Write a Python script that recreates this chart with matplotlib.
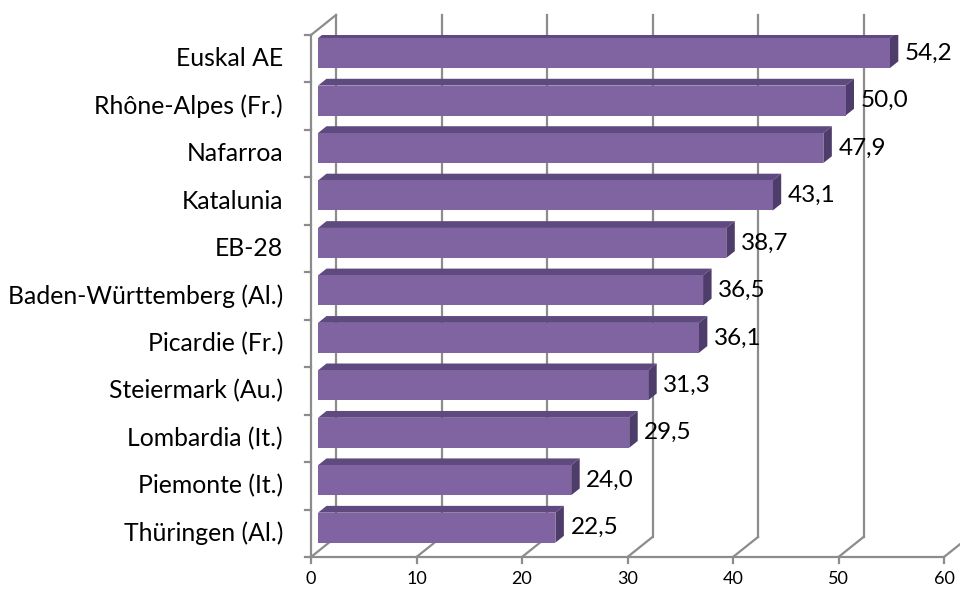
import matplotlib
matplotlib.use("Agg")
import matplotlib.pyplot as plt
from matplotlib.patches import Polygon
from matplotlib.lines import Line2D

categories = ["Thüringen (Al.)", "Piemonte (It.)", "Lombardia (It.)", "Steiermark (Au.)",
              "Picardie (Fr.)", "Baden-Württemberg (Al.)", "EB-28", "Katalunia",
              "Nafarroa", "Rhône-Alpes (Fr.)", "Euskal AE"]
values = [22.5, 24.0, 29.5, 31.3, 36.1, 36.5, 38.7, 43.1, 47.9, 50.0, 54.2]
value_labels = ["22,5", "24,0", "29,5", "31,3", "36,1", "36,5", "38,7", "43,1", "47,9", "50,0", "54,2"]
xticks = [0, 10, 20, 30, 40, 50, 60]

W, H = 960, 589
fig = plt.figure(figsize=(W / 100, H / 100), dpi=100)
x0px, x1px = 311, 944
ybot, ytop = 557, 35
ax = fig.add_axes([x0px / W, (H - ybot) / H, (x1px - x0px) / W, (ybot - ytop) / H])
ax.set_xlim(0, 60)
ax.set_ylim(-0.5, len(categories) - 0.5)
ax.axis("off")

pxu = (x1px - x0px) / 60.0
pyu = (ybot - ytop) / len(categories)
DX = 25 / pxu
DY = 20 / pyu
f0, fd = 0.28, 0.34
h = 30 / pyu

grid_c = "#8c8c8c"
lw = 1.6
n = len(categories)
ymin, ymax = -0.5, n - 0.5
FONT = "Lato"

# back wall gridlines + floor diagonals
for t in xticks:
    ax.add_line(Line2D([t + DX, t + DX], [ymin + DY, ymax + DY], color=grid_c, lw=lw, clip_on=False, zorder=1))
    ax.add_line(Line2D([t, t + DX], [ymin, ymin + DY], color=grid_c, lw=lw, clip_on=False, zorder=1))
# left wall
ax.add_line(Line2D([0, 0], [ymin, ymax], color=grid_c, lw=lw, clip_on=False, zorder=1))
ax.add_line(Line2D([0, DX], [ymax, ymax + DY], color=grid_c, lw=lw, clip_on=False, zorder=1))
for k in range(n + 1):
    yy = ymin + k
    ax.add_line(Line2D([0, -6 / pxu], [yy, yy], color=grid_c, lw=lw, clip_on=False, zorder=1))
# front x axis
ax.add_line(Line2D([0, 60], [ymin, ymin], color=grid_c, lw=lw, clip_on=False, zorder=1))
for t in xticks:
    ax.add_line(Line2D([t, t], [ymin, ymin - 6 / pyu], color=grid_c, lw=lw, clip_on=False, zorder=1))
    ax.text(t, ymin - 22 / pyu, str(t), ha="center", va="center", fontsize=13,
            family=FONT, color="#000000")

front_c = "#8064a2"
top_c = "#5f4a80"
side_c = "#4e3c6b"
for i, (v, lab) in enumerate(zip(values, value_labels)):
    xa = f0 * DX
    xb = v + f0 * DX
    ya = i - h / 2 + f0 * DY
    yb = i + h / 2 + f0 * DY
    ddx, ddy = fd * DX, fd * DY
    ax.add_patch(Polygon([(xa, yb), (xb, yb), (xb + ddx, yb + ddy), (xa + ddx, yb + ddy)],
                         closed=True, facecolor=top_c, edgecolor="none", zorder=3))
    ax.add_patch(Polygon([(xb, ya), (xb, yb), (xb + ddx, yb + ddy), (xb + ddx, ya + ddy)],
                         closed=True, facecolor=side_c, edgecolor="none", zorder=3))
    ax.add_patch(Polygon([(xa, ya), (xb, ya), (xb, yb), (xa, yb)],
                         closed=True, facecolor=front_c, edgecolor="none", zorder=4))
    ax.text(xb + 15 / pxu, i + f0 * DY, lab, ha="left", va="center", fontsize=17.5,
            family=FONT, color="#000000", zorder=5)
    ax.text(-28 / pxu, i, categories[i], ha="right", va="center", fontsize=17.8,
            family=FONT, color="#000000")

fig.savefig("out.png", dpi=100)
